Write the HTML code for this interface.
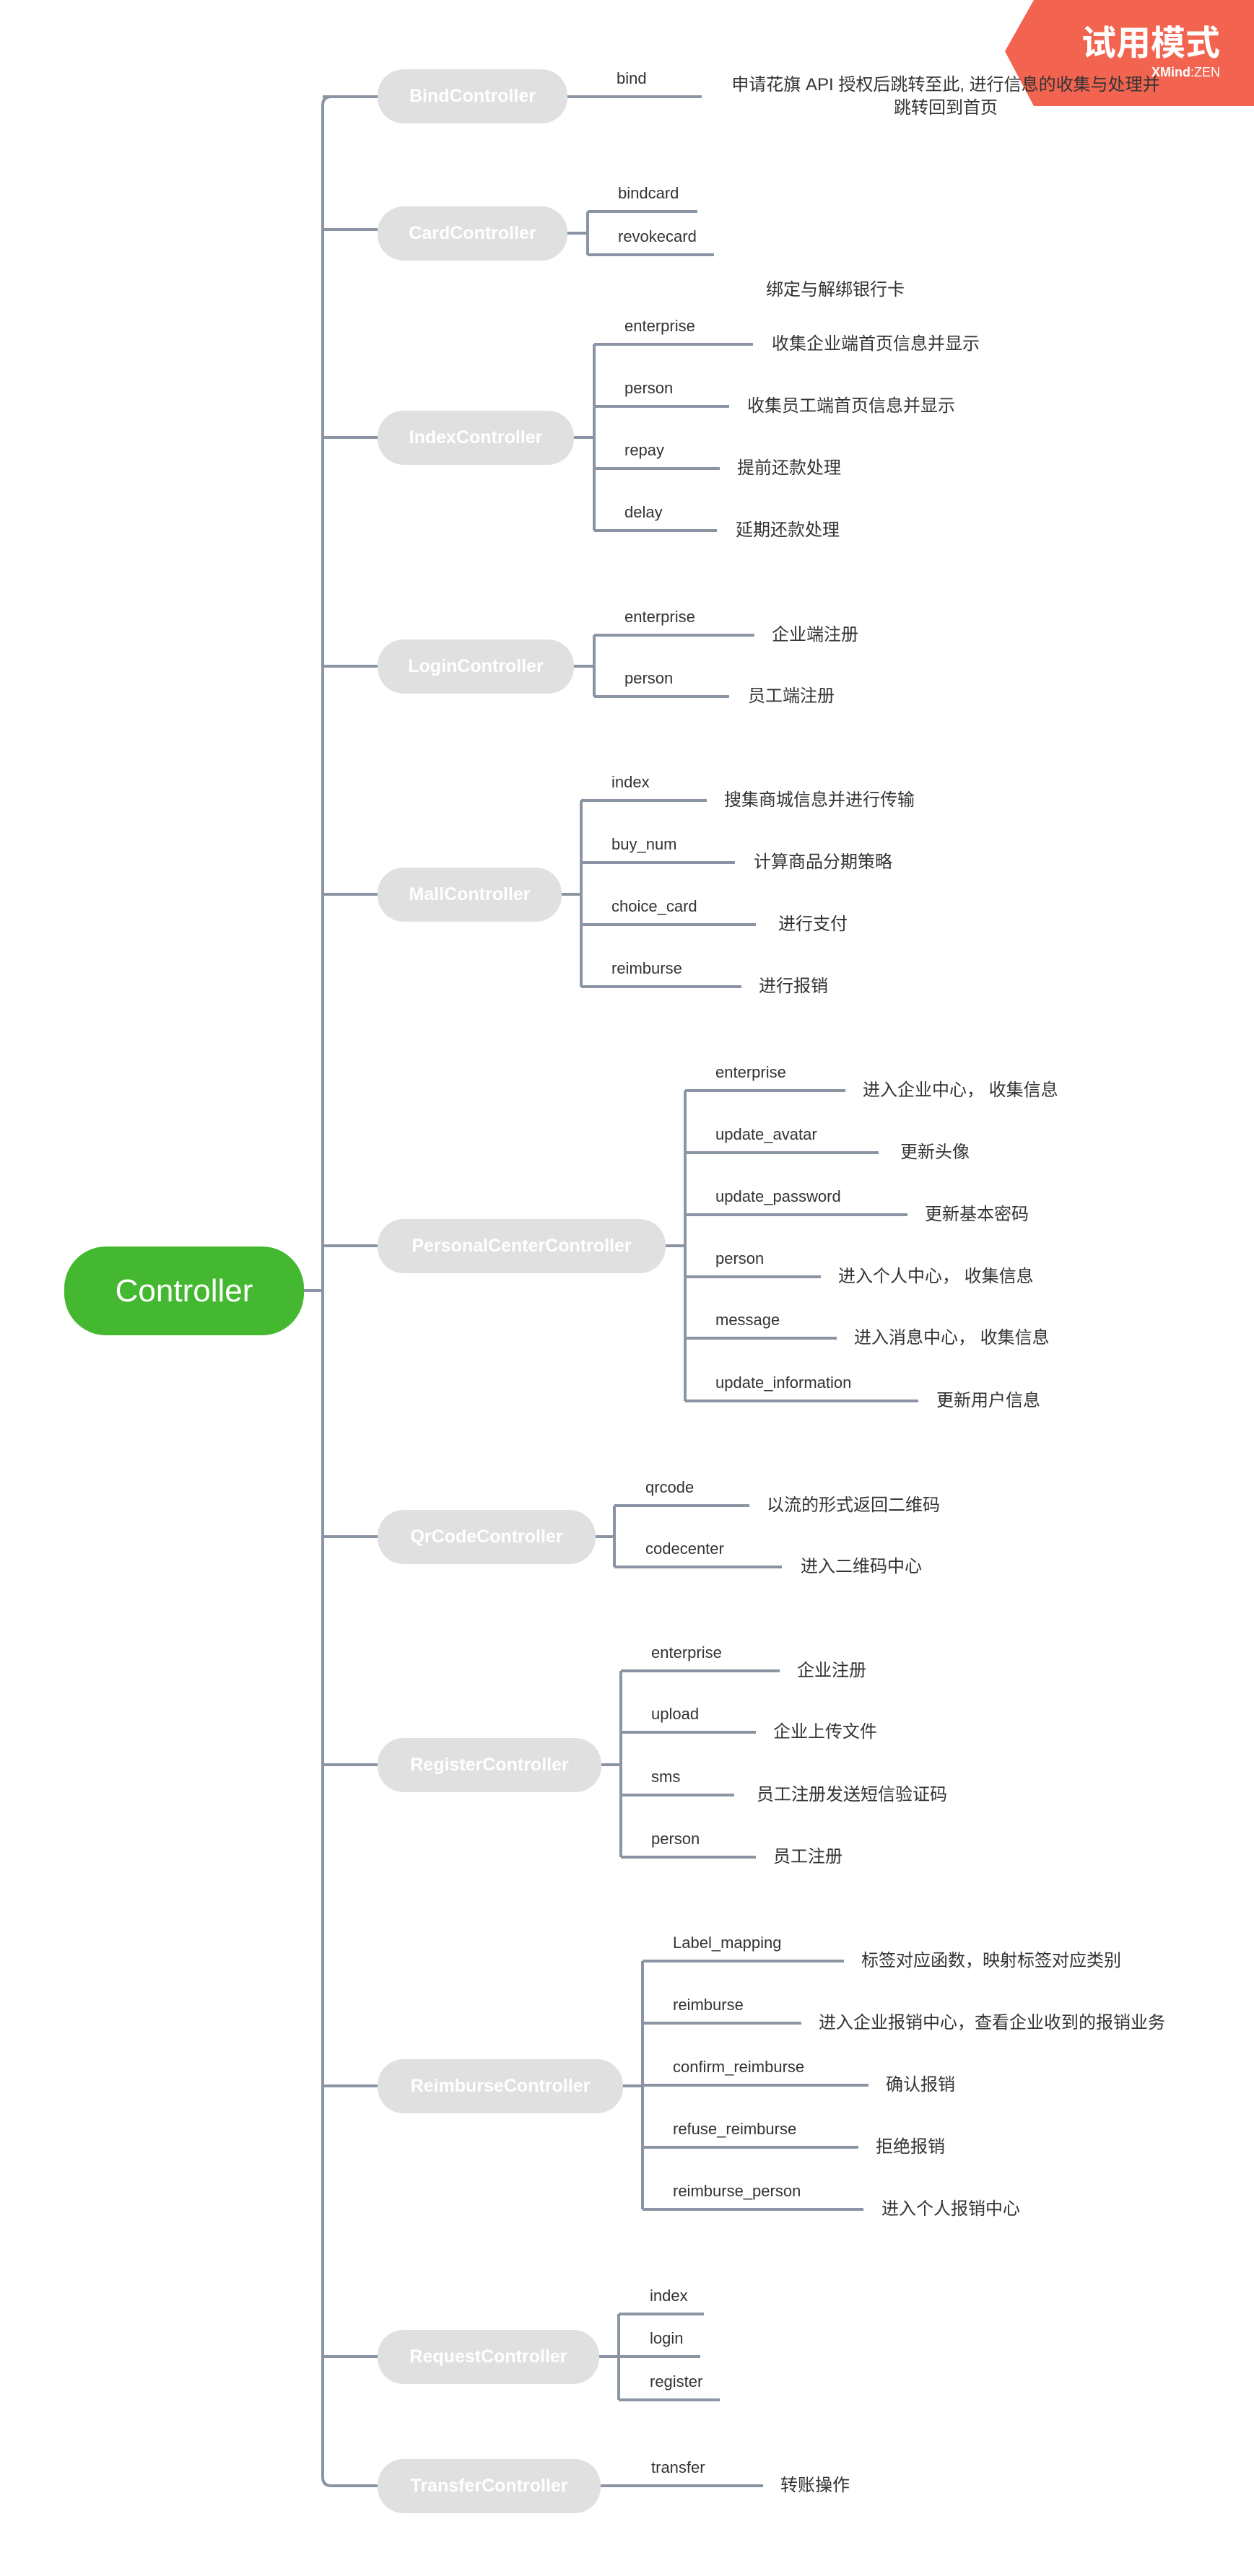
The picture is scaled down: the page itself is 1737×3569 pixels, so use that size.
<!DOCTYPE html>
<html><head><meta charset="utf-8">
<style>
html,body{margin:0;padding:0;background:#fff;}
body{width:1737px;height:3569px;position:relative;overflow:hidden;font-family:"Liberation Sans","Noto Sans CJK SC",sans-serif;}
.n{position:absolute;left:523px;height:75px;border-radius:36px;background:#e0e0e0;color:#fff;font-weight:bold;font-size:25px;line-height:75px;text-align:center;white-space:nowrap;}
.l{position:absolute;font-size:22px;line-height:30px;color:#333;white-space:nowrap;}
.d{position:absolute;font-size:24px;line-height:32px;color:#333;white-space:nowrap;}
svg{position:absolute;left:0;top:0;}
</style></head><body>
<svg width="1737" height="3569" fill="none" stroke="#8a94a3" stroke-width="4">
<path d="M459,134 Q447,134 447,146 V3432 Q447,3444 459,3444 H523" stroke-width="4"/>
<path d="M421,1788 H447"/>
<path d="M447,134 H523 M447,318 H523 M447,606 H523 M447,923 H523 M447,1239 H523 M447,1726 H523 M447,2129 H523 M447,2445 H523 M447,2890 H523 M447,3265 H523"/>
<path d="M786,134 H972"/>
<path d="M786,323 H814 M814,293 V353 M814,293 H966 M814,353 H989"/>
<path d="M795,606 H823 M823,477 V735 M823,477 H1043 M823,563 H1010 M823,649 H997 M823,735 H993"/>
<path d="M795,923 H823 M823,880 V965 M823,880 H1045 M823,965 H1010"/>
<path d="M778,1239 H805 M805,1109 V1367 M805,1109 H979 M805,1195 H1018 M805,1281 H1047 M805,1367 H1027"/>
<path d="M922,1726 H949 M949,1511 V1941 M949,1511 H1171 M949,1597 H1217 M949,1683 H1257 M949,1769 H1137 M949,1854 H1159 M949,1941 H1272"/>
<path d="M825,2129 H851 M851,2086 V2171 M851,2086 H1038 M851,2171 H1083"/>
<path d="M833,2445 H860 M860,2315 V2573 M860,2315 H1080 M860,2400 H1047 M860,2487 H1017 M860,2573 H1047"/>
<path d="M863,2890 H890 M890,2717 V3061 M890,2717 H1169 M890,2803 H1110 M890,2889 H1203 M890,2975 H1189 M890,3061 H1196"/>
<path d="M830,3265 H857 M857,3206 V3325 M857,3206 H975 M857,3265 H970 M857,3325 H997"/>
<path d="M832,3444 H1057"/>
<path d="M1432,0 H1737 V147 H1432 L1392,71 Z" fill="#f26450" stroke="none"/>
</svg>

<div style="position:absolute;left:1400px;top:30px;width:290px;text-align:right;color:#fff;font-weight:bold;font-size:48px;line-height:62px;">试用模式</div>
<div style="position:absolute;left:1500px;top:88px;width:190px;text-align:right;color:#fff;font-size:18px;line-height:24px;"><b>XMind</b>:ZEN</div>

<div style="position:absolute;left:89px;top:1727px;width:332px;height:123px;border-radius:58px;background:#44b830;color:#fff;font-size:44px;line-height:123px;text-align:center;">Controller</div>

<div class="n" style="top:96px;width:263px;">BindController</div>
<div class="n" style="top:286px;width:263px;">CardController</div>
<div class="n" style="top:569px;width:272px;">IndexController</div>
<div class="n" style="top:886px;width:272px;">LoginController</div>
<div class="n" style="top:1202px;width:255px;">MallController</div>
<div class="n" style="top:1689px;width:399px;">PersonalCenterController</div>
<div class="n" style="top:2092px;width:302px;">QrCodeController</div>
<div class="n" style="top:2408px;width:310px;">RegisterController</div>
<div class="n" style="top:2853px;width:340px;">ReimburseController</div>
<div class="n" style="top:3228px;width:307px;">RequestController</div>
<div class="n" style="top:3407px;width:309px;">TransferController</div>

<div class="l" style="left:854px;top:94px;">bind</div>
<div class="d" style="left:1000px;top:102px;width:620px;text-align:center;">申请花旗 API 授权后跳转至此, 进行信息的收集与处理并<br>跳转回到首页</div>
<div class="l" style="left:856px;top:253px;">bindcard</div>
<div class="l" style="left:856px;top:313px;">revokecard</div>
<div class="d" style="left:1061px;top:386px;">绑定与解绑银行卡</div>
<div class="l" style="left:865px;top:437px;">enterprise</div>
<div class="l" style="left:865px;top:523px;">person</div>
<div class="l" style="left:865px;top:609px;">repay</div>
<div class="l" style="left:865px;top:695px;">delay</div>
<div class="d" style="left:1069px;top:461px;">收集企业端首页信息并显示</div>
<div class="d" style="left:1035px;top:547px;">收集员工端首页信息并显示</div>
<div class="d" style="left:1021px;top:633px;">提前还款处理</div>
<div class="d" style="left:1019px;top:719px;">延期还款处理</div>
<div class="l" style="left:865px;top:840px;">enterprise</div>
<div class="l" style="left:865px;top:925px;">person</div>
<div class="d" style="left:1069px;top:864px;">企业端注册</div>
<div class="d" style="left:1036px;top:949px;">员工端注册</div>
<div class="l" style="left:847px;top:1069px;">index</div>
<div class="l" style="left:847px;top:1155px;">buy_num</div>
<div class="l" style="left:847px;top:1241px;">choice_card</div>
<div class="l" style="left:847px;top:1327px;">reimburse</div>
<div class="d" style="left:1003px;top:1093px;">搜集商城信息并进行传输</div>
<div class="d" style="left:1044px;top:1179px;">计算商品分期策略</div>
<div class="d" style="left:1078px;top:1265px;">进行支付</div>
<div class="d" style="left:1051px;top:1351px;">进行报销</div>
<div class="l" style="left:991px;top:1471px;">enterprise</div>
<div class="l" style="left:991px;top:1557px;">update_avatar</div>
<div class="l" style="left:991px;top:1643px;">update_password</div>
<div class="l" style="left:991px;top:1729px;">person</div>
<div class="l" style="left:991px;top:1814px;">message</div>
<div class="l" style="left:991px;top:1901px;">update_information</div>
<div class="d" style="left:1195px;top:1495px;">进入企业中心， 收集信息</div>
<div class="d" style="left:1247px;top:1581px;">更新头像</div>
<div class="d" style="left:1281px;top:1667px;">更新基本密码</div>
<div class="d" style="left:1161px;top:1753px;">进入个人中心， 收集信息</div>
<div class="d" style="left:1183px;top:1838px;">进入消息中心， 收集信息</div>
<div class="d" style="left:1297px;top:1925px;">更新用户信息</div>
<div class="l" style="left:894px;top:2046px;">qrcode</div>
<div class="l" style="left:894px;top:2131px;">codecenter</div>
<div class="d" style="left:1062px;top:2070px;">以流的形式返回二维码</div>
<div class="d" style="left:1109px;top:2155px;">进入二维码中心</div>
<div class="l" style="left:902px;top:2275px;">enterprise</div>
<div class="l" style="left:902px;top:2360px;">upload</div>
<div class="l" style="left:902px;top:2447px;">sms</div>
<div class="l" style="left:902px;top:2533px;">person</div>
<div class="d" style="left:1104px;top:2299px;">企业注册</div>
<div class="d" style="left:1071px;top:2384px;">企业上传文件</div>
<div class="d" style="left:1048px;top:2471px;">员工注册发送短信验证码</div>
<div class="d" style="left:1071px;top:2557px;">员工注册</div>
<div class="l" style="left:932px;top:2677px;">Label_mapping</div>
<div class="l" style="left:932px;top:2763px;">reimburse</div>
<div class="l" style="left:932px;top:2849px;">confirm_reimburse</div>
<div class="l" style="left:932px;top:2935px;">refuse_reimburse</div>
<div class="l" style="left:932px;top:3021px;">reimburse_person</div>
<div class="d" style="left:1193px;top:2701px;">标签对应函数，映射标签对应类别</div>
<div class="d" style="left:1134px;top:2787px;">进入企业报销中心，查看企业收到的报销业务</div>
<div class="d" style="left:1227px;top:2873px;">确认报销</div>
<div class="d" style="left:1213px;top:2959px;">拒绝报销</div>
<div class="d" style="left:1221px;top:3045px;">进入个人报销中心</div>
<div class="l" style="left:900px;top:3166px;">index</div>
<div class="l" style="left:900px;top:3225px;">login</div>
<div class="l" style="left:900px;top:3285px;">register</div>
<div class="l" style="left:902px;top:3404px;">transfer</div>
<div class="d" style="left:1081px;top:3428px;">转账操作</div>
</body></html>
